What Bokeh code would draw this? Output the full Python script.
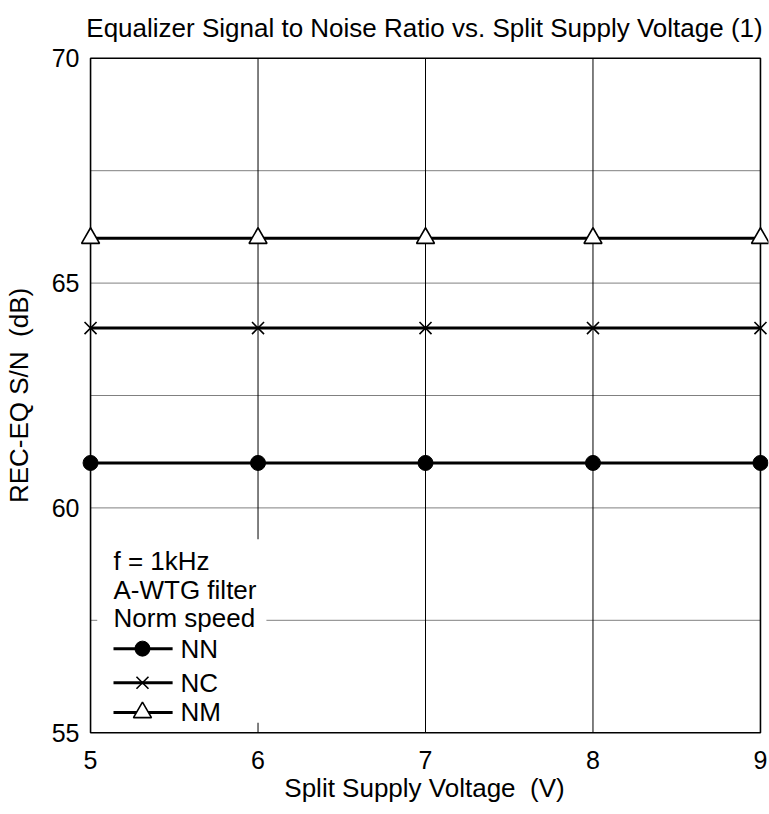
from bokeh.plotting import figure
from bokeh.models import FixedTicker, Range1d
from bokeh.core.properties import value
from bokeh.embed import file_html
from bokeh.resources import INLINE

# ---- data ----
voltage = [5, 6, 7, 8, 9]
sn_nn = [61, 61, 61, 61, 61]
sn_nc = [64, 64, 64, 64, 64]
sn_nm = [66, 66, 66, 66, 66]
x_ticks = [5, 6, 7, 8, 9]
y_ticks = [55, 60, 65, 70]
y_grid = [57.5, 60, 62.5, 65, 67.5]
x_grid = [6, 7, 8]
legend_notes = ["f = 1kHz", "A-WTG filter", "Norm speed"]
legend_series = ["NN", "NC", "NM"]

FONT = "Liberation Sans"

p = figure(
    frame_width=688, frame_height=678,
    min_border_left=72, min_border_right=1, min_border_top=56, min_border_bottom=66,
    x_range=Range1d(4.94, 9.048), y_range=Range1d(54.96, 70.04),
    output_backend="svg", toolbar_location=None,
    title="Equalizer Signal to Noise Ratio vs. Split Supply Voltage (1)",
)
p.title.text_font = FONT
p.title.text_font_size = "26px"
p.title.text_font_style = "normal"
p.title.text_color = "black"
p.title.align = "center"
p.title.vertical_align = "top"
p.title.standoff = 23
p.outline_line_color = None
p.xgrid.visible = False
p.ygrid.visible = False

for ax in (p.xaxis[0], p.yaxis[0]):
    ax.axis_line_color = None
    ax.major_tick_in = 0
    ax.major_tick_out = 0
    ax.minor_tick_in = 0
    ax.minor_tick_out = 0
    ax.major_label_text_font = FONT
    ax.major_label_text_font_size = "25px"
    ax.major_label_text_color = "black"
    ax.axis_label_text_font = FONT
    ax.axis_label_text_font_size = "26px"
    ax.axis_label_text_font_style = "normal"
    ax.axis_label_text_color = "black"

p.xaxis.ticker = FixedTicker(ticks=x_ticks)
p.yaxis.ticker = FixedTicker(ticks=y_ticks)
p.xaxis.axis_label = "Split Supply Voltage\u00a0 (V)"
p.yaxis.axis_label = "REC-EQ S/N\u00a0 (dB)"
p.xaxis.major_label_standoff = 16
p.xaxis.axis_label_standoff = 1
p.yaxis.major_label_standoff = 1
p.yaxis.axis_label_standoff = 15

x0, x1 = x_ticks[0], x_ticks[-1]
y0, y1 = y_ticks[0], y_ticks[-1]

# grid lines
p.segment(x0=[x0] * len(y_grid), x1=[x1] * len(y_grid), y0=y_grid, y1=y_grid,
          line_color="#808080", line_width=1)
p.segment(x0=x_grid, x1=x_grid, y0=[y0] * len(x_grid), y1=[y1] * len(x_grid),
          line_color="#000000", line_width=1)

# legend background
p.quad(left=[5.04], right=[6.05], bottom=[55.22], top=[59.30],
       fill_color="white", line_color=None)

# frame
p.quad(left=[x0], right=[x1], bottom=[y0], top=[y1],
       fill_color=None, line_color="black", line_width=1.6)

# series
LW = 3
p.line(voltage, sn_nn, line_color="black", line_width=LW)
p.scatter(voltage, sn_nn, marker="circle", size=15, fill_color="black", line_color="black")
p.line(voltage, sn_nc, line_color="black", line_width=LW)
p.scatter(voltage, sn_nc, marker="x", size=17, line_color="black", line_width=1.6)
p.line(voltage, sn_nm, line_color="black", line_width=LW)
p.scatter(voltage, sn_nm, marker="triangle", size=18, fill_color="white",
          line_color="black", line_width=1.6)

# legend content
note_y = [58.81, 58.18, 57.56]
p.text(x=[5.137] * 3, y=note_y, text=legend_notes, text_font=value(FONT),
       text_font_size="26px", text_baseline="middle", text_align="left", text_color="black")
key_y = [56.87, 56.11, 55.45]
p.segment(x0=[5.137] * 3, x1=[5.49] * 3, y0=key_y, y1=key_y, line_color="black", line_width=LW)
p.scatter([5.31], [key_y[0]], marker="circle", size=15, fill_color="black", line_color="black")
p.scatter([5.31], [key_y[1]], marker="x", size=17, line_color="black", line_width=1.6)
p.scatter([5.31], [key_y[2]], marker="triangle", size=18, fill_color="white",
          line_color="black", line_width=1.6)
p.text(x=[5.537] * 3, y=key_y, text=legend_series, text_font=value(FONT),
       text_font_size="26px", text_baseline="middle", text_align="left", text_color="black")

open("out.html", "w").write(file_html(p, INLINE))
